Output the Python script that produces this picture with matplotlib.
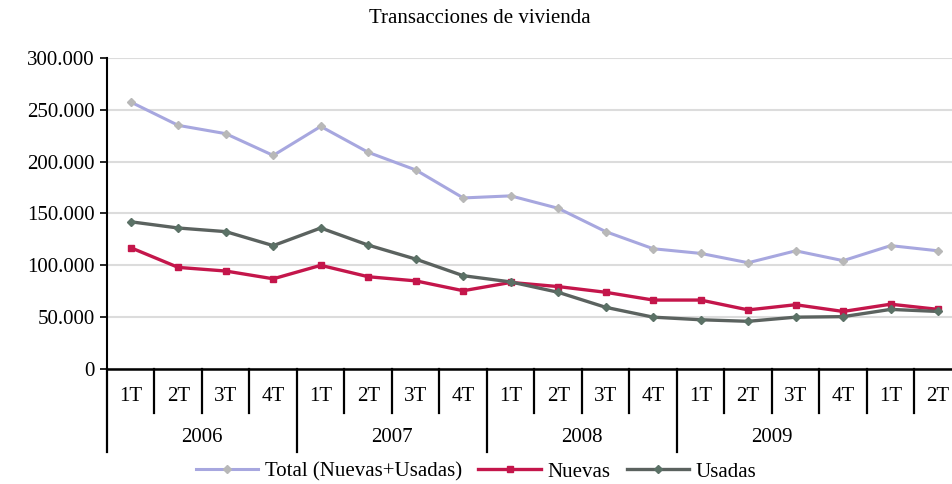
import matplotlib.pyplot as plt
import matplotlib.transforms as mtransforms
from matplotlib.ticker import FuncFormatter

plt.rcParams['font.family'] = ['Liberation Serif', 'DejaVu Serif']

quarters = ["1T", "2T", "3T", "4T"] * 4 + ["1T", "2T"]
years = ["2006", "2007", "2008", "2009"]

total = [257500, 235000, 227000, 206000, 234000, 209000, 192000, 165000,
         167000, 155000, 132500, 116000, 111500, 102500, 114000, 104500,
         119000, 114000]
nuevas = [117000, 98000, 94500, 87000, 100000, 89000, 85000, 75500,
          83500, 79500, 74000, 66500, 66500, 57000, 62000, 55500,
          62500, 57500]
usadas = [142000, 136000, 132500, 119000, 136000, 119500, 106000, 90000,
          84000, 74000, 59500, 50000, 47500, 46000, 50000, 50500,
          57500, 55500]

fig = plt.figure(figsize=(9.52, 4.84), dpi=100)
ax = fig.add_axes([0.1124, 0.2376, 0.898, 0.6426])

x = list(range(len(total)))
l1, = ax.plot(x, total, color="#a7a7df", lw=2.2, marker="D", ms=4,
              mfc="#b8b8b8", mec="#b8b8b8", label="Total (Nuevas+Usadas)")
l2, = ax.plot(x, nuevas, color="#c4164b", lw=2.4, marker="s", ms=5,
              label="Nuevas")
l3, = ax.plot(x, usadas, color="#5b625f", lw=2.4, marker="D", ms=4.5,
              mfc="#5b7166", mec="#5b7166", label="Usadas")

ax.set_xlim(-0.5, len(total) - 0.5)
ax.set_ylim(0, 300000)
ax.set_yticks(range(0, 300001, 50000))
ax.yaxis.set_major_formatter(FuncFormatter(lambda v, p: f"{int(v):,}".replace(",", ".")))
ax.tick_params(axis="y", labelsize=15, length=5, width=1.2, color="black", pad=4)
ax.set_xticks([])
ax.grid(axis="y", color="#dcdcdc", lw=1.5)
ax.set_axisbelow(True)
for s in ["top", "right"]:
    ax.spines[s].set_visible(False)
ax.spines["left"].set_linewidth(1.5)
ax.spines["bottom"].set_linewidth(1.8)

# category axis: quarter and year boundaries with labels
trans = mtransforms.blended_transform_factory(ax.transData, ax.transAxes)
for k in range(len(total) + 1):
    bottom = -0.267 if k % 4 == 0 and k < 16 else -0.142
    ax.plot([k - 0.5, k - 0.5], [0, bottom], color="black", lw=1.6,
            transform=trans, clip_on=False)
for i, q in enumerate(quarters):
    ax.text(i, -0.09, q, transform=trans, ha="center", va="center", fontsize=15)
for j, yr in enumerate(years):
    ax.text(4 * j + 1.5, -0.219, yr, transform=trans, ha="center", va="center",
            fontsize=15)

fig.text(0.504, 0.962, "Transacciones de vivienda", ha="center", va="center",
         fontsize=15)
fig.legend(handles=[l1, l2, l3], loc="center", bbox_to_anchor=(0.5, 0.025),
           ncol=3, frameon=False, fontsize=15, handlelength=3,
           handletextpad=0.3, columnspacing=0.8)

fig.savefig("out.png", dpi=100)
